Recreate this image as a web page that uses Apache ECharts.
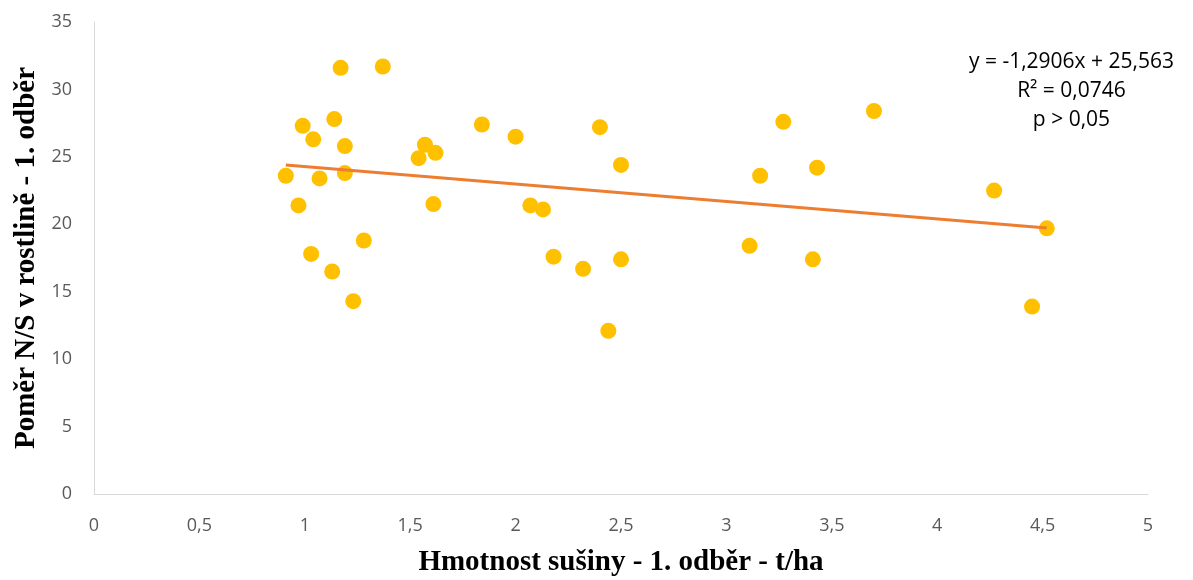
<!DOCTYPE html>
<html>
<head>
<meta charset="utf-8">
<script src="https://cdn.jsdelivr.net/npm/echarts@6/dist/echarts.min.js"></script>
<style>
	html, body { margin: 0; padding: 0; background: #fff; }
	#chart { width: 1193px; height: 580px; }
</style>
</head>
<body>
<div id="chart"></div>
<script>
	// hmotnost sušiny (t/ha) a poměr N/S
	const hmotnost = [0.91, 0.97, 0.99, 1.03, 1.04, 1.07, 1.13, 1.14, 1.17, 1.19, 1.19, 1.23, 1.28,
		1.37, 1.54, 1.57, 1.62, 1.61, 1.84, 2.0, 2.07, 2.13, 2.18, 2.32, 2.4, 2.44, 2.5, 2.5,
		3.11, 3.16, 3.27, 3.41, 3.43, 3.7, 4.27, 4.45, 4.52]
	const pomerNS = [23.6, 21.4, 27.3, 17.8, 26.3, 23.4, 16.5, 27.8, 31.6, 25.8, 23.8, 14.3, 18.8,
		31.7, 24.9, 25.9, 25.3, 21.5, 27.4, 26.5, 21.4, 21.1, 17.6, 16.7, 27.2, 12.1, 24.4, 17.4,
		18.4, 23.6, 27.6, 17.4, 24.2, 28.4, 22.5, 13.9, 19.7]
	const xTicks = ['0', '0,5', '1', '1,5', '2', '2,5', '3', '3,5', '4', '4,5', '5']
	// lineární trend (rovnice z grafu)
	const smernice = -1.2906
	const usek = 25.563
	const popisTrendu = ['y = -1,2906x + 25,563', 'R² = 0,0746', 'p > 0,05']

	const body = hmotnost.map((v, i) => [v, pomerNS[i]])
	const xMin = Math.min(...hmotnost)
	const xMax = Math.max(...hmotnost)
	const trend = [[xMin, smernice * xMin + usek], [xMax, smernice * xMax + usek]]

	const chartInstance = echarts.init(document.getElementById('chart'))
	const option = {
		animation: false,
		grid: { left: 94, right: 45, top: 22, bottom: 86, outerBoundsMode: 'none', containLabel: false },
		xAxis: {
			type: 'value',
			min: 0,
			max: 5,
			interval: 0.5,
			name: 'Hmotnost sušiny - 1. odběr - t/ha',
			nameLocation: 'middle',
			nameGap: 54,
			nameTextStyle: { fontFamily: 'Liberation Serif', fontWeight: 'bold', fontSize: 29, color: '#000' },
			axisLine: { show: true, lineStyle: { color: '#d9d9d9', width: 1 } },
			axisTick: { show: false },
			splitLine: { show: false },
			axisLabel: {
				margin: 23,
				fontFamily: 'Open Sans',
				fontSize: 18,
				color: '#595959',
				formatter: (v) => xTicks[Math.round(v * 2)]
			}
		},
		yAxis: {
			type: 'value',
			min: 0,
			max: 35,
			interval: 5,
			name: 'Poměr N/S v rostlině - 1. odběr',
			nameLocation: 'middle',
			nameGap: 52,
			nameTextStyle: { fontFamily: 'Liberation Serif', fontWeight: 'bold', fontSize: 29, color: '#000' },
			axisLine: { show: true, lineStyle: { color: '#d9d9d9', width: 1 } },
			axisTick: { show: false },
			splitLine: { show: false },
			axisLabel: { margin: 22, fontFamily: 'Open Sans', fontSize: 18, color: '#595959' }
		},
		// popisek trendu – tři řádky na střed
		graphic: [{
			type: 'group',
			right: 19,
			top: 52,
			children: popisTrendu.map((t, i) => ({
				type: 'text',
				x: 0,
				y: i * 29,
				style: { text: t, fontFamily: 'Open Sans', fontSize: 21, fill: '#000', align: 'center' }
			}))
		}],
		series: [{
			type: 'scatter',
			data: body,
			symbolSize: 16,
			itemStyle: { color: '#FFC000', opacity: 1 },
			z: 2
		}, {
			type: 'line',
			data: trend,
			symbol: 'none',
			lineStyle: { color: '#ED7D31', width: 3 },
			z: 3
		}]
	}
	chartInstance.setOption(option)
</script>
</body>
</html>
